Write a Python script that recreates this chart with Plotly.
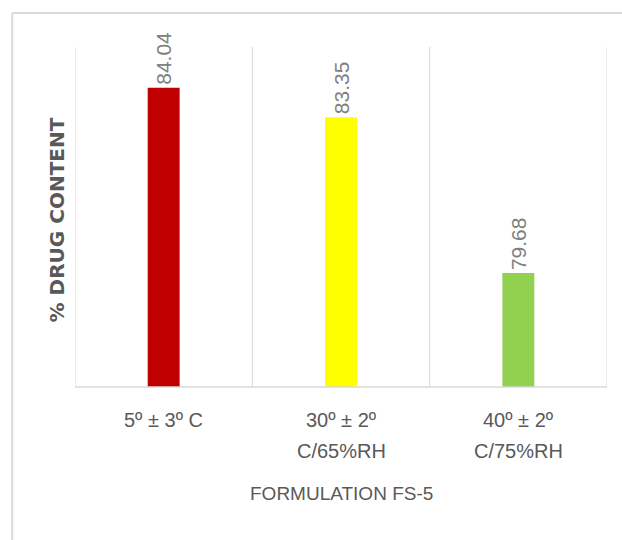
import plotly.graph_objects as go

# Storage conditions (two-line labels) and measured drug content (%)
conditions = ["5º ± 3º C", "30º ± 2º<br>C/65%RH", "40º ± 2º<br>C/75%RH"]
drug_content = [84.04, 83.35, 79.68]
bar_colors = ["#C00000", "#FFFF00", "#92D050"]

y_min, y_max = 77, 85
grid_color = "#d9d9d9"
text_color = "#595959"
label_font = "Liberation Sans, Arial"

fig = go.Figure()
fig.add_trace(go.Bar(
    x=list(range(len(conditions))),
    y=[v - y_min for v in drug_content],
    base=y_min,
    marker=dict(color=bar_colors, line=dict(width=0)),
    width=0.18,
    text=[f"{v:.2f}" for v in drug_content],
    textposition="outside",
    textangle=-90,
    constraintext="none",
    textfont=dict(family=label_font, size=21, color="#808080"),
    cliponaxis=False,
    hoverinfo="skip",
))

# category separators and left/bottom axis lines
shapes = []
for i in range(len(conditions) + 1):
    shapes.append(dict(type="line", xref="x", yref="paper",
                       x0=i - 0.5, x1=i - 0.5, y0=0, y1=1,
                       line=dict(color=grid_color, width=1), layer="below"))
shapes.append(dict(type="line", xref="paper", yref="paper",
                   x0=0, x1=1, y0=0, y1=0,
                   line=dict(color=grid_color, width=1.5)))
# chart frame (top and left edges)
shapes.append(dict(type="line", xref="paper", yref="paper",
                   x0=-0.118, x1=1.1, y0=1.1, y1=1.1,
                   line=dict(color=grid_color, width=2)))
shapes.append(dict(type="line", xref="paper", yref="paper",
                   x0=-0.118, x1=-0.118, y0=1.1, y1=-0.5,
                   line=dict(color=grid_color, width=2)))

# category labels, one annotation per text line
annotations = []
for i, label in enumerate(conditions):
    for j, line in enumerate(label.split("<br>")):
        annotations.append(dict(
            x=i, xref="x", y=0, yref="paper", yanchor="middle",
            yshift=-33 - 31 * j, text=line, showarrow=False,
            font=dict(family=label_font, size=20, color=text_color)))

# axis titles
annotations.append(dict(
    x=0.5, xref="paper", y=0, yref="paper", yanchor="middle", yshift=-106,
    text="FORMULATION FS-5", showarrow=False,
    font=dict(family=label_font, size=19, color=text_color)))
annotations.append(dict(
    x=0, xref="paper", xanchor="center", xshift=-18,
    y=0.49, yref="paper", yanchor="middle",
    text="<b>% DRUG CONTENT</b>", textangle=-90, showarrow=False,
    font=dict(family="DejaVu Sans", size=20, color=text_color)))

fig.update_layout(
    width=622, height=540,
    margin=dict(l=75, r=15, t=47, b=153),
    paper_bgcolor="white", plot_bgcolor="white",
    showlegend=False,
    shapes=shapes,
    annotations=annotations,
    xaxis=dict(
        showgrid=False, zeroline=False, showline=False, ticks="",
        showticklabels=False,
        range=[-0.5, len(conditions) - 0.5],
    ),
    yaxis=dict(
        range=[y_min, y_max], showgrid=False, zeroline=False, showline=False,
        showticklabels=False, ticks="",
    ),
)

fig.write_html("out.html")
